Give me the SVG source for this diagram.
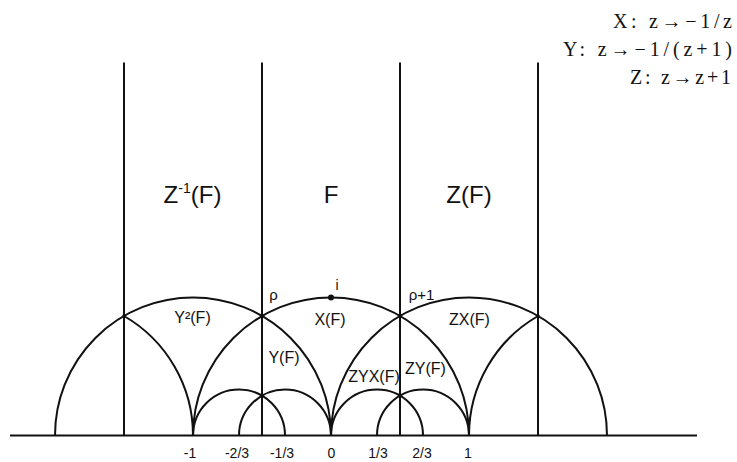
<svg xmlns="http://www.w3.org/2000/svg" width="737" height="462" viewBox="0 0 737 462">
<style>
.ln{fill:none;stroke:#111;stroke-width:2;stroke-linecap:butt}
.lab{font-family:"Liberation Sans",Arial,sans-serif;fill:#111;text-anchor:middle}
.big{font-size:24px}
.reg{font-size:16px}
.num{font-size:14px}
.frm{font-family:"Liberation Serif","Times New Roman",serif;font-size:20px;fill:#111}
.dot{fill:#111}
</style>
<rect width="737" height="462" fill="#fff"/>
<g id="connectors">
<path class="ln" d="M10,435.5 H697"/>
<path class="ln" d="M124,62.5 V435.5 M262,62.5 V435.5 M400,62.5 V435.5 M538,62.5 V435.5"/>
<path class="ln" d="M55,435.5 A138,138 0 0 1 331,435.5"/>
<path class="ln" d="M193,435.5 A138,138 0 0 1 469,435.5"/>
<path class="ln" d="M331,435.5 A138,138 0 0 1 607,435.5"/>
<path class="ln" d="M193,435.5 A138,138 0 0 0 124,316"/>
<path class="ln" d="M469,435.5 A138,138 0 0 1 538,316"/>
<path class="ln" d="M193,435.5 A46,46 0 0 1 285,435.5"/>
<path class="ln" d="M239,435.5 A46,46 0 0 1 331,435.5"/>
<path class="ln" d="M331,435.5 A46,46 0 0 1 423,435.5"/>
<path class="ln" d="M377,435.5 A46,46 0 0 1 469,435.5"/>
</g>
<g id="points">
<circle class="dot" cx="331" cy="297.5" r="3"/>
<circle class="dot" cx="262" cy="316" r="2.2"/>
<circle class="dot" cx="400" cy="316" r="2.2"/>
<circle class="dot" cx="124" cy="316" r="1.8"/>
<circle class="dot" cx="538" cy="316" r="1.8"/>
<circle class="dot" cx="262" cy="395.7" r="2"/>
<circle class="dot" cx="400" cy="395.7" r="2"/>
</g>
<g id="region-labels">
<text class="lab big" x="192.5" y="203">Z<tspan font-size="14" dy="-10">-1</tspan><tspan dy="10">(F)</tspan></text>
<text class="lab big" x="331" y="203">F</text>
<text class="lab big" x="469" y="203">Z(F)</text>
<text class="lab reg" x="192.5" y="323">Y²(F)</text>
<text class="lab reg" x="330" y="325">X(F)</text>
<text class="lab reg" x="469.5" y="325">ZX(F)</text>
<text class="lab reg" x="284" y="363">Y(F)</text>
<text class="lab reg" x="374" y="382">ZYX(F)</text>
<text class="lab reg" x="425.5" y="374">ZY(F)</text>
<text class="lab" font-size="15" x="273.5" y="300">ρ</text>
<text class="lab" font-size="14" x="337" y="290">i</text>
<text class="lab" font-size="15" x="421.5" y="300">ρ+1</text>
</g>
<g id="axis-labels">
<text class="lab num" x="190" y="458">-1</text>
<text class="lab num" x="237" y="458">-2/3</text>
<text class="lab num" x="282" y="458">-1/3</text>
<text class="lab num" x="331.5" y="458">0</text>
<text class="lab num" x="378" y="458">1/3</text>
<text class="lab num" x="422" y="458">2/3</text>
<text class="lab num" x="468" y="458">1</text>
</g>
<g id="legend">
<text class="frm" x="613" y="28" textLength="119" lengthAdjust="spacing">X: z→−1/z</text>
<text class="frm" x="563" y="56" textLength="169" lengthAdjust="spacing">Y: z→−1/(z+1)</text>
<text class="frm" x="630" y="84" textLength="101" lengthAdjust="spacing">Z: z→z+1</text>
</g>
</svg>
